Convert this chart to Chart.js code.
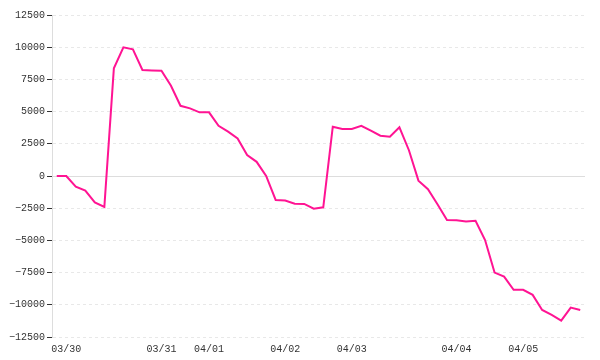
<!DOCTYPE html>
<html>
<head>
<meta charset="utf-8">
<script src="https://cdn.jsdelivr.net/npm/chart.js@4"></script>
<style>
  html, body { margin: 0; padding: 0; background: #fff; }
  #wrap { width: 600px; height: 360px; }
</style>
</head>
<body>
<div id="wrap"><canvas id="lineChart"></canvas></div>
<script>
// one label per trading day, blank for the other points
const dayLabels = ['', '03/30', '', '', '', '', '', '', '', '', '',
  '03/31', '', '', '', '', '04/01', '', '', '', '', '', '', '', '04/02',
  '', '', '', '', '', '', '04/03', '', '', '', '', '', '', '', '', '',
  '', '04/04', '', '', '', '', '', '', '04/05', '', '', '', '', '', ''];

const values = [0, 0, -830, -1140, -2050, -2400, 8360, 9990, 9830, 8230,
  8200, 8170, 7000, 5450, 5250, 4940, 4940, 3900, 3450, 2920,
  1630, 1100, 0, -1860, -1900, -2150, -2170, -2540, -2430, 3830,
  3650, 3650, 3900, 3520, 3130, 3050, 3780, 2000, -360, -1030,
  -2200, -3410, -3440, -3540, -3470, -4970, -7500, -7810, -8840, -8840,
  -9230, -10400, -10790, -11230, -10220, -10400];

const yMin = -12500;
const yMax = 12500;
const yStep = 2500;

const tickFont = { family: 'Liberation Mono', size: 10 };

const lineChart = document.getElementById('lineChart');

new Chart(lineChart, {
    type: 'line',
    data: {
        labels: dayLabels,
        datasets: [{
            data: values,
            borderColor: '#ff1493',
            borderWidth: 2,
            pointRadius: 0,
            fill: false,
            tension: 0
        }]
    },
    options: {
        responsive: true,
        maintainAspectRatio: false,
        animation: false,
        layout: { padding: { top: 15, right: 15, bottom: 5, left: 0 } },
        plugins: {
            legend: { display: false },
            tooltip: { enabled: false }
        },
        scales: {
            x: {
                offset: true,
                afterFit: s => { s.height = 18; },
                grid: { display: false, drawTicks: false },
                border: { display: false },
                ticks: {
                    autoSkip: false,
                    maxRotation: 0,
                    padding: 6,
                    color: '#333',
                    font: tickFont
                }
            },
            y: {
                min: yMin,
                max: yMax,
                afterFit: s => { s.width = 52; },
                grid: {
                    color: ctx => ctx.tick && ctx.tick.value === 0 ? '#dddddd' : '#e8e8e8',
                    tickColor: '#333',
                    tickLength: 5
                },
                border: {
                    display: true,
                    color: '#dddddd',
                    dash: ctx => ctx.tick && ctx.tick.value === 0 ? [] : [3, 3]
                },
                ticks: {
                    stepSize: yStep,
                    padding: 2,
                    color: '#333',
                    font: tickFont,
                    callback: v => v < 0 ? '\u2212' + Math.abs(v) : String(v)
                }
            }
        }
    }
});
</script>
</body>
</html>
